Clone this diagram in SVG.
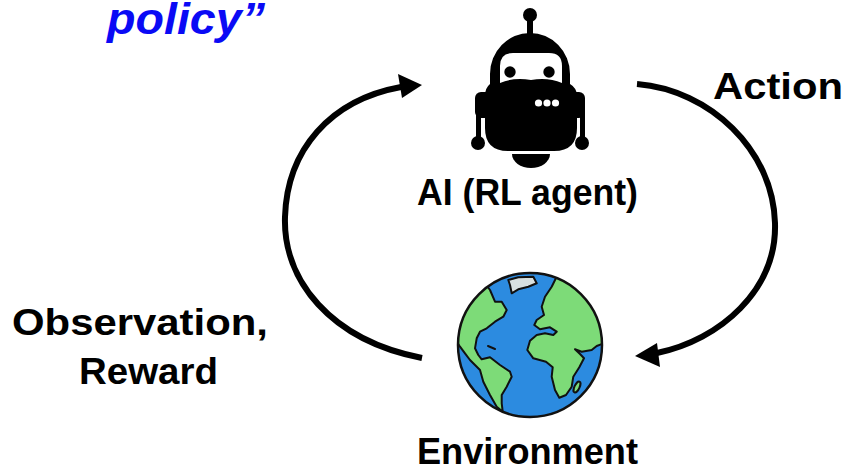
<svg xmlns="http://www.w3.org/2000/svg" width="846" height="472" viewBox="0 0 846 472">
  <defs>
    <style>
      .lbl { font-family: "Liberation Sans", Arial, sans-serif; font-weight: bold; font-size: 36px; fill: #000; }
      .note { font-family: "Liberation Sans", Arial, sans-serif; font-weight: bold; font-style: italic; font-size: 44px; fill: #0A0AF5; }
      .flow { fill: none; stroke: #000; stroke-width: 6; stroke-linecap: butt; }
      .land { fill: #7DDB78; stroke: #111; stroke-width: 2; stroke-linejoin: round; }
    </style>
    <clipPath id="globeClip">
      <circle cx="530" cy="345" r="72"/>
    </clipPath>
  </defs>
  <rect width="846" height="472" fill="#fff"/>

  <!-- partial caption at top -->
  <text class="note" x="107" y="34" textLength="158" lengthAdjust="spacingAndGlyphs">policy”</text>

  <!-- agent -->
  <g id="agent">
    <circle cx="530" cy="15" r="7"/>
    <rect x="527" y="18" width="6" height="16"/>
    <rect x="475" y="92" width="17" height="26" rx="6"/>
    <rect x="569" y="92" width="16" height="26" rx="6"/>
    <rect x="476" y="112" width="5" height="28"/>
    <rect x="580" y="112" width="5" height="28"/>
    <circle cx="478" cy="143" r="7"/>
    <circle cx="582" cy="143" r="7"/>
    <path d="M490,74 A40,41 0 0 1 570,74 L570,84 Q577,88 577,96 L577,128 Q577,151 554,151 L508,151 Q485,151 485,128 L485,96 Q485,88 490,84 Z"/>
    <path d="M512,154 A19,14 0 0 0 550,154 Z"/>
    <path d="M500,83 L500,66 Q500,53 513,53 L549,53 Q562,53 562,66 L562,83 Q548,77 531,80 Q514,77 500,83 Z" fill="#fff"/>
    <circle cx="510" cy="72" r="5.7"/>
    <circle cx="549" cy="72" r="5.7"/>
    <circle cx="538.5" cy="103" r="3.6" fill="#fff"/>
    <circle cx="547" cy="103" r="3.6" fill="#fff"/>
    <circle cx="555.5" cy="103" r="3.6" fill="#fff"/>
    <text class="lbl" x="417" y="205" textLength="221" lengthAdjust="spacingAndGlyphs">AI (RL agent)</text>
  </g>

  <!-- environment -->
  <g id="environment">
    <circle cx="530" cy="345" r="72" fill="#2C8BE0"/>
    <g clip-path="url(#globeClip)">
      <path class="land" d="M480,262 L480,276.7 L490,290 L495,301.7 L501.7,301.7 L506.7,310 L503.3,316.7 L495,321.7 L486.7,328.3 L480,331.7 L476.7,338.3 L475,348.3 L478.3,355 L481.7,359.3 L490,357.3 L500,365 L510,371.7 L511.7,376.7 L506.7,386.7 L501.7,395 L501.7,403.3 L502.7,411.7 L496.7,406.7 L490,395 L483.3,381.7 L480,370 L475,365 L470,360 L465,353.3 L460,346.7 L456.7,341.7 L440,340 L440,262 Z"/>
      <path class="land" d="M560,270 L551.7,286.7 L545,296.7 L541.7,306.7 L544,315 L536.7,320 L534.3,325 L540,329.3 L550,327.3 L556.7,331.7 L553.3,335 L545,333.3 L536.7,335 L530,340.7 L527.3,350 L533.3,358.3 L546,361.7 L552.7,367.3 L551.7,376.7 L555,390 L559.3,397.7 L566,395 L571.7,386.7 L573.3,376.7 L579.3,367.3 L584,358.3 L580,354 L575,349.3 L581.7,351.7 L591.7,350 L596.7,346 L613,340 L613,270 Z"/>
      <path d="M508.3,280 L518.3,277.3 L533.3,276.7 L536.7,283.3 L528.3,286.7 L518.3,289.3 L511.7,293.3 L510,285 Z" fill="#D8E0E0" stroke="#111" stroke-width="2" stroke-linejoin="round"/>
      <ellipse cx="577" cy="387" rx="2.5" ry="6" transform="rotate(25 577 387)" class="land"/>
      <path d="M488,346 L495,349" stroke="#111" stroke-width="2" stroke-linecap="round"/>
    </g>
    <circle cx="530" cy="345" r="72" fill="none" stroke="#111" stroke-width="2.5"/>
    <text class="lbl" x="417" y="464" textLength="221" lengthAdjust="spacingAndGlyphs">Environment</text>
  </g>

  <!-- loop connectors -->
  <g id="connectors">
    <path class="flow" d="M422,358 C330,340 283,280 285,217 C287,150 330,100 401,87"/>
    <polygon points="422,85 398,74 402,98"/>
    <path class="flow" d="M637,84 C710,90 773,150 775,223 C777,290 720,340 657,353"/>
    <polygon points="635,356 657,343 660,367"/>
    <text class="lbl" x="713" y="99" textLength="130" lengthAdjust="spacingAndGlyphs">Action</text>
    <text class="lbl" x="12" y="335" textLength="256" lengthAdjust="spacingAndGlyphs">Observation,</text>
    <text class="lbl" x="79" y="384" textLength="139" lengthAdjust="spacingAndGlyphs">Reward</text>
  </g>
</svg>
